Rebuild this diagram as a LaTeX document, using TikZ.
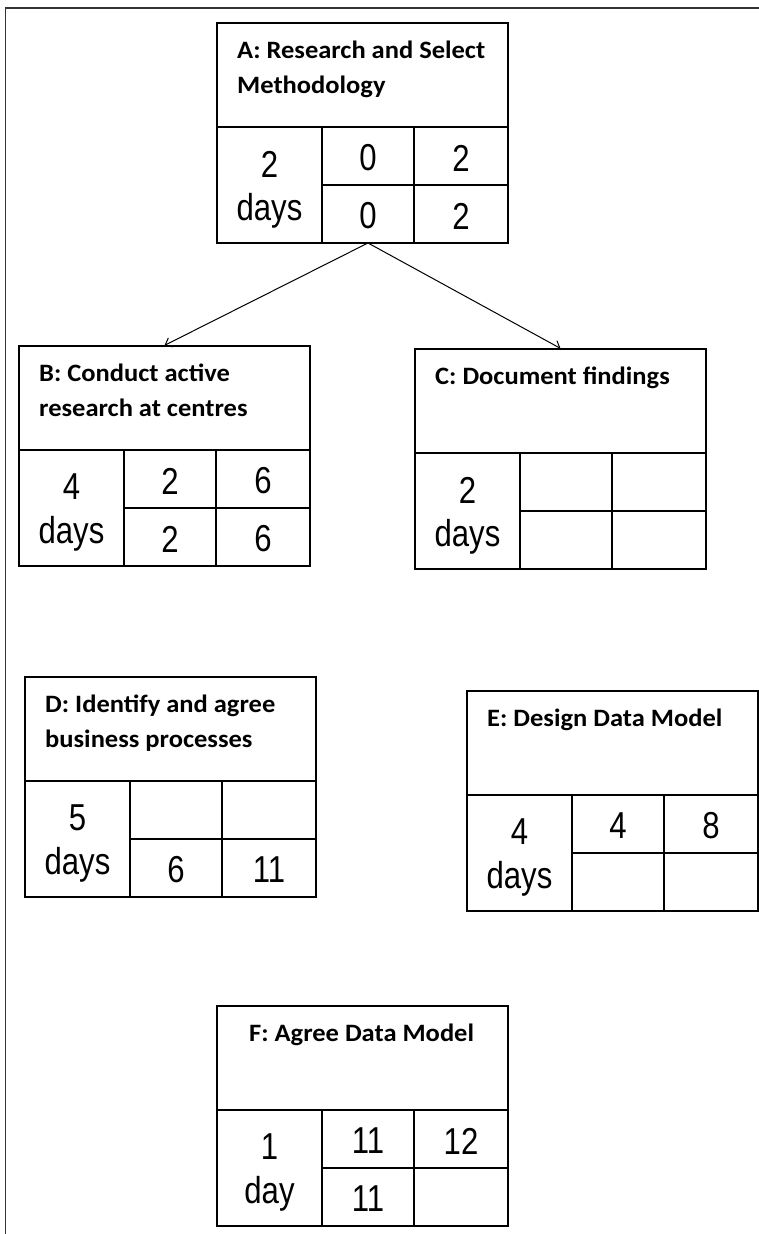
\documentclass[tikz,border=0pt]{standalone}
\usepackage{fontspec}
\setmainfont{Carlito}
\newfontfamily\titlefont[FakeStretch=1.06]{Carlito}
\newfontfamily\numfont[FakeStretch=0.83]{Liberation Sans}
\usetikzlibrary{arrows.meta}
\tikzset{
  boxframe/.style={draw, rectangle, line width=1.2pt, minimum width=291pt, minimum height=220pt, inner sep=0pt},
  boxline/.style={line width=1.2pt},
  titletext/.style={anchor=base west, inner sep=0pt, font=\titlefont\bfseries\fontsize{25}{35}\selectfont},
  numtext/.style={inner sep=0pt, font=\numfont\fontsize{37.5}{42}\selectfont},
  durtext/.style={inner sep=0pt, font=\numfont\fontsize{37.5}{42}\selectfont},
  arrowline/.style={line width=1pt, -{Straight Barb[length=6pt,width=10pt]}},
  frameline/.style={line width=1.1pt, black!80}
}
\newcommand{\actbox}[9]{%
\begin{scope}[shift={(#2)}]
\node[boxframe] (#1) at (145.5,110) {};
\draw[boxline] (0,104) -- (291,104) (105,104) -- (105,220) (197,104) -- (197,220) (105,162) -- (291,162);
\node[titletext] (#1-title) at (20,35) {\parbox[t]{268pt}{\raggedright #3}};
\node[durtext] (#1-dur) at (52.5,141) {#4};
\node[durtext, anchor=base] (#1-unit) at (52.5,197) {#5};
\node[numtext] (#1-es) at (151,135) {#6};
\node[numtext] (#1-ef) at (244,135) {#7};
\node[numtext] (#1-ls) at (151,193) {#8};
\node[numtext] (#1-lf) at (244,193) {#9};
\coordinate (#1-out) at (151,220);
\end{scope}}
\begin{document}
\begin{tikzpicture}[x=1pt, y=-1pt]
\useasboundingbox (0,0) rectangle (759,1234);
\coordinate (frameTR) at (759,8);
\coordinate (frameTL) at (5.5,8);
\coordinate (frameBL) at (5.5,1234);
\draw[frameline] (frameTR) -- (frameTL) -- (frameBL);
\actbox{A}{217,23}{A: Research and Select\\Methodology}{2}{days}{0}{2}{0}{2}
\actbox{B}{19,346}{B: Conduct active\\research at centres}{4}{days}{2}{6}{2}{6}
\actbox{C}{415,349}{C: Document findings}{2}{days}{}{}{}{}
\actbox{D}{25,677}{D: Identify and agree\\business processes}{5}{days}{}{}{6}{11}
\actbox{E}{467,691}{E: Design Data Model}{4}{days}{4}{8}{}{}
\actbox{F}{217,1006}{\hspace*{12pt}F: Agree Data Model}{1}{day}{11}{12}{11}{}
\draw[arrowline] (A-out) -- (B.north);
\draw[arrowline] (A-out) -- (C.north);
\end{tikzpicture}
\end{document}
